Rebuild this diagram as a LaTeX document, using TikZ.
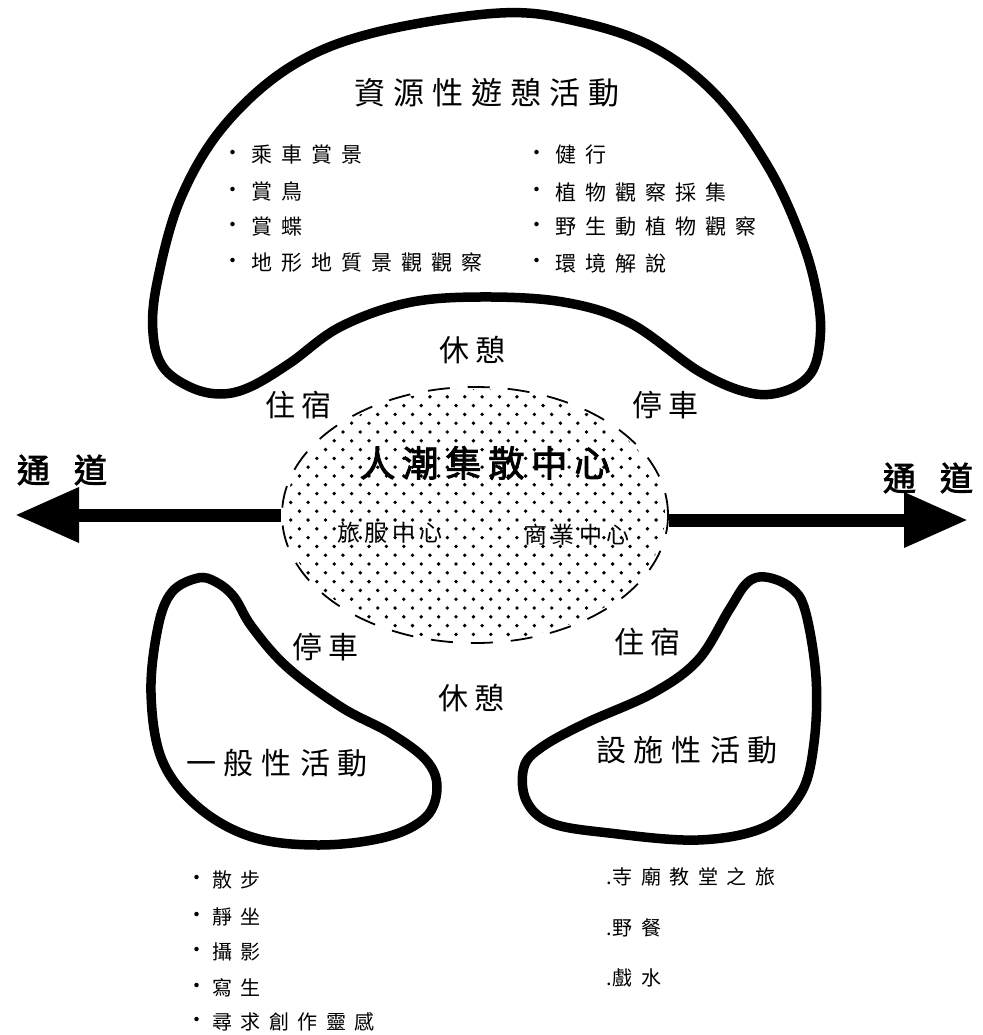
\documentclass[tikz,border=0pt]{standalone}
\usepackage{fontspec}
\usetikzlibrary{shapes.geometric,arrows.meta}
\newfontfamily\cjk{Noto Sans CJK TC}
\newfontfamily\cjkb[FakeBold=2.5]{Noto Sans CJK TC}
\makeatletter
\newcommand\sx[2]{\def\sx@k{#1}\expandafter\sx@aux#2\sx@end}
\def\sx@aux#1#2\sx@end{#1\ifx\relax#2\relax\else\kern\sx@k\relax\sx@aux#2\sx@end\fi}
\makeatother
\begin{document}
\begin{tikzpicture}[x=1pt,y=-1pt,
  blob/.style={line width=9.5pt, line join=round},
  ttl/.style={font=\cjk\fontsize{31}{36}\selectfont, inner sep=0pt},
  lab/.style={font=\cjk\fontsize{30}{34}\selectfont, inner sep=0pt},
  item/.style={font=\cjk\fontsize{21}{25}\selectfont, inner sep=0pt, anchor=west},
  sitem/.style={font=\cjk\fontsize{20}{24}\selectfont, inner sep=0pt, anchor=west},
  bul/.style={font=\cjk\fontsize{21}{25}\selectfont, inner sep=0pt},
  hubtxt/.style={font=\cjk\fontsize{23}{27}\selectfont, inner sep=0pt},
  road/.style={font=\cjkb\fontsize{33}{38}\selectfont, inner sep=0pt},
  axis/.style={line width=13pt, -{Triangle[length=64pt,width=52pt]}}
]
\useasboundingbox (0,0) rectangle (982,1035);

% dotted hub
\begin{scope}
\clip (475,515) ellipse [x radius=190pt, y radius=126pt];
\foreach \r in {0,...,30}{
  \foreach \c in {0,...,23}{
    \fill ({282+\c*17.4+mod(\r,2)*8.7},{388+\r*8.8}) circle (1.9pt);
  }
}
\end{scope}
\node[ellipse, draw, line width=1.8pt, dash pattern=on 22pt off 18pt,
      minimum width=386pt, minimum height=256pt, inner sep=0pt] (hub) at (475,515) {};

% hub texts
\node[font=\cjkb\fontsize{36}{40}\selectfont, inner sep=0pt] (crowd) at (485,463) {\sx{7pt}{人潮集散中心}};
\node[hubtxt] (svc) at (390,533) {\sx{4.5pt}{旅服中心}};
\node[hubtxt] (biz) at (577,535) {\sx{4.5pt}{商業中心}};

% top shape
\draw[blob] plot[smooth cycle, tension=0.6] coordinates {
 (500,13) (580,22) (655,48) (718,97) (770,170) (803,243) (818,300) (820,340)
 (811,373) (785,391) (750,393) (700,372) (630,323) (563,302) (480,297) (407,303)
 (340,327) (290,363) (250,387) (220,394) (190,387) (163,367) (153,333) (157,283)
 (180,200) (223,127) (290,67) (373,33)};

\node[ttl] (res) at (487,93) {\sx{8pt}{資源性遊憩活動}};
\foreach \y/\t [count=\i] in {155/乘車賞景,192/賞鳥,227/賞蝶,263/地形地質景觀觀察}{
  \node[bul] (lb\i) at (233,\y) {·};
  \node[item] (li\i) at (251,\y) {\sx{9pt}{\t}};
}
\foreach \y/\t [count=\i] in {155/健行,192/植物觀察採集,227/野生動植物觀察,263/環境解說}{
  \node[bul] (rb\i) at (537,\y) {·};
  \node[item] (ri\i) at (555,\y) {\sx{9pt}{\t}};
}

% labels around hub
\node[lab] (rest1) at (472,350) {\sx{6pt}{休憩}};
\node[lab] (stay1) at (298,405) {\sx{6pt}{住宿}};
\node[lab] (park1) at (665,405) {\sx{6pt}{停車}};
\node[lab] (park2) at (325,647) {\sx{6pt}{停車}};
\node[lab] (stay2) at (647,642) {\sx{6pt}{住宿}};
\node[lab] (rest2) at (471,698) {\sx{6pt}{休憩}};

% lower shapes
\draw[blob] plot[smooth cycle, tension=0.6] coordinates {
 (198,578) (216,582) (234,597) (252,627) (287,667) (341,707) (390,733) (426,760)
 (437,787) (426,817) (386,837) (319,845) (252,837) (198,807) (162,760) (151,693)
 (158,627) (172,592)};
\draw[blob] plot[smooth cycle, tension=0.6] coordinates {
 (765,577) (790,587) (805,610) (816,677) (814,743) (801,793) (765,827) (698,840)
 (609,833) (551,823) (526,800) (524,767) (542,747) (586,723) (653,693) (698,660)
 (729,610) (747,583)};
\node[lab] (gen) at (277,763) {\sx{8pt}{一般性活動}};
\node[lab] (fac) at (687,750) {\sx{8pt}{設施性活動}};

% lower lists
\foreach \y/\t [count=\i] in {880/散步,917/靜坐,952/攝影,988/寫生,1022/尋求創作靈感}{
  \node[bul] (gb\i) at (197,\y) {·};
  \node[sitem] (gi\i) at (212,\y) {\sx{8.5pt}{\t}};
}
\foreach \y/\t [count=\i] in {877/寺廟教堂之旅,928/野餐,978/戲水}{
  \node[sitem] (fi\i) at (606,\y) {.\kern1pt\sx{8.5pt}{\t}};
}

% axis arrows
\coordinate (ltip) at (15,515);
\coordinate (rtip) at (968,520);
\draw[axis] (hub.west) -- (ltip);
\draw[axis] (hub.east |- rtip) -- (rtip);
\node[road] (roadL) at (62,470) {通\kern24pt 道};
\node[road] (roadR) at (928,478) {通\kern24pt 道};
\end{tikzpicture}
\end{document}
